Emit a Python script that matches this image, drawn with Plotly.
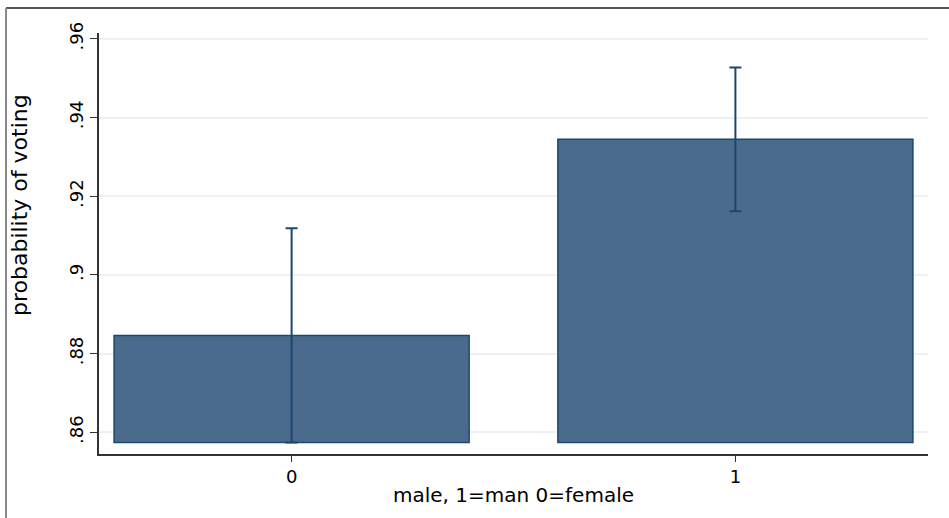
import plotly.graph_objects as go

# Data
categories = [0, 1]
means = [0.8846, 0.9345]
ci_lower = [0.8574, 0.9162]
ci_upper = [0.9119, 0.9527]
bar_base = 0.8574
y_tickvals = [0.86, 0.88, 0.90, 0.92, 0.94, 0.96]
y_ticktext = [".86", ".88", ".9", ".92", ".94", ".96"]
x_tickvals = [0, 1]
x_ticktext = ["0", "1"]
x_title = "male, 1=man 0=female"
y_title = "probability of voting"

heights = [m - bar_base for m in means]
err_plus = [u - m for u, m in zip(ci_upper, means)]
err_minus = [m - l for m, l in zip(means, ci_lower)]

FONT = "DejaVu Sans"
AXIS_COLOR = "#333333"

fig = go.Figure()
fig.add_trace(go.Bar(
    x=categories,
    y=heights,
    base=bar_base,
    width=0.8,
    marker=dict(color="#4a6b8c", line=dict(color="#1a476f", width=1.5)),
    error_y=dict(type="data", symmetric=False, array=err_plus, arrayminus=err_minus,
                 color="#1a476f", thickness=2, width=6),
    hoverinfo="skip",
))

W, H = 949, 518
ml, mr, mt, mb = 99, 21, 33, 64
pw, ph = W - ml - mr, H - mt - mb

def px_x(p):
    return (p - ml) / pw

def px_y(p):
    return 1 - (p - mt) / ph

fig.update_layout(
    width=W, height=H,
    margin=dict(l=ml, r=mr, t=mt, b=mb, autoexpand=False),
    paper_bgcolor="white",
    plot_bgcolor="white",
    showlegend=False,
    font=dict(family=FONT, color="black"),
    xaxis=dict(
        range=[-0.434, 1.434],
        tickvals=x_tickvals, ticktext=x_ticktext,
        ticks="outside", ticklen=6, tickwidth=1.2, tickcolor=AXIS_COLOR,
        tickfont=dict(size=18, family=FONT, color="black"),
        showline=True, linecolor=AXIS_COLOR, linewidth=1.5,
        showgrid=False, zeroline=False,
        title=dict(text=x_title, font=dict(size=20, family=FONT, color="black"), standoff=2),
        automargin=False,
    ),
    yaxis=dict(
        range=[0.8545, 0.9615],
        tickvals=y_tickvals, ticktext=y_ticktext,
        tickangle=-90,
        ticks="outside", ticklen=7, tickwidth=1.2, tickcolor=AXIS_COLOR,
        tickfont=dict(size=18, family=FONT, color="black"),
        showline=True, linecolor=AXIS_COLOR, linewidth=1.5,
        showgrid=True, gridcolor="#eaf2f3", gridwidth=1.5,
        zeroline=False,
        automargin=False,
    ),
    annotations=[
        dict(text=y_title, textangle=-90, showarrow=False,
             xref="paper", yref="paper", x=px_x(19), y=px_y(205),
             xanchor="center", yanchor="middle",
             font=dict(size=22, family=FONT, color="black")),
    ],
    shapes=[
        dict(type="line", xref="paper", yref="paper",
             x0=px_x(6), x1=px_x(W), y0=px_y(8), y1=px_y(8),
             line=dict(color="#222222", width=1.5)),
        dict(type="line", xref="paper", yref="paper",
             x0=px_x(6), x1=px_x(6), y0=px_y(8), y1=px_y(H),
             line=dict(color="#8a8a8a", width=2)),
    ],
)

fig.write_html("out.html", config={"displayModeBar": False},
               post_script="document.body.style.margin='0';document.body.style.overflow='hidden';")
